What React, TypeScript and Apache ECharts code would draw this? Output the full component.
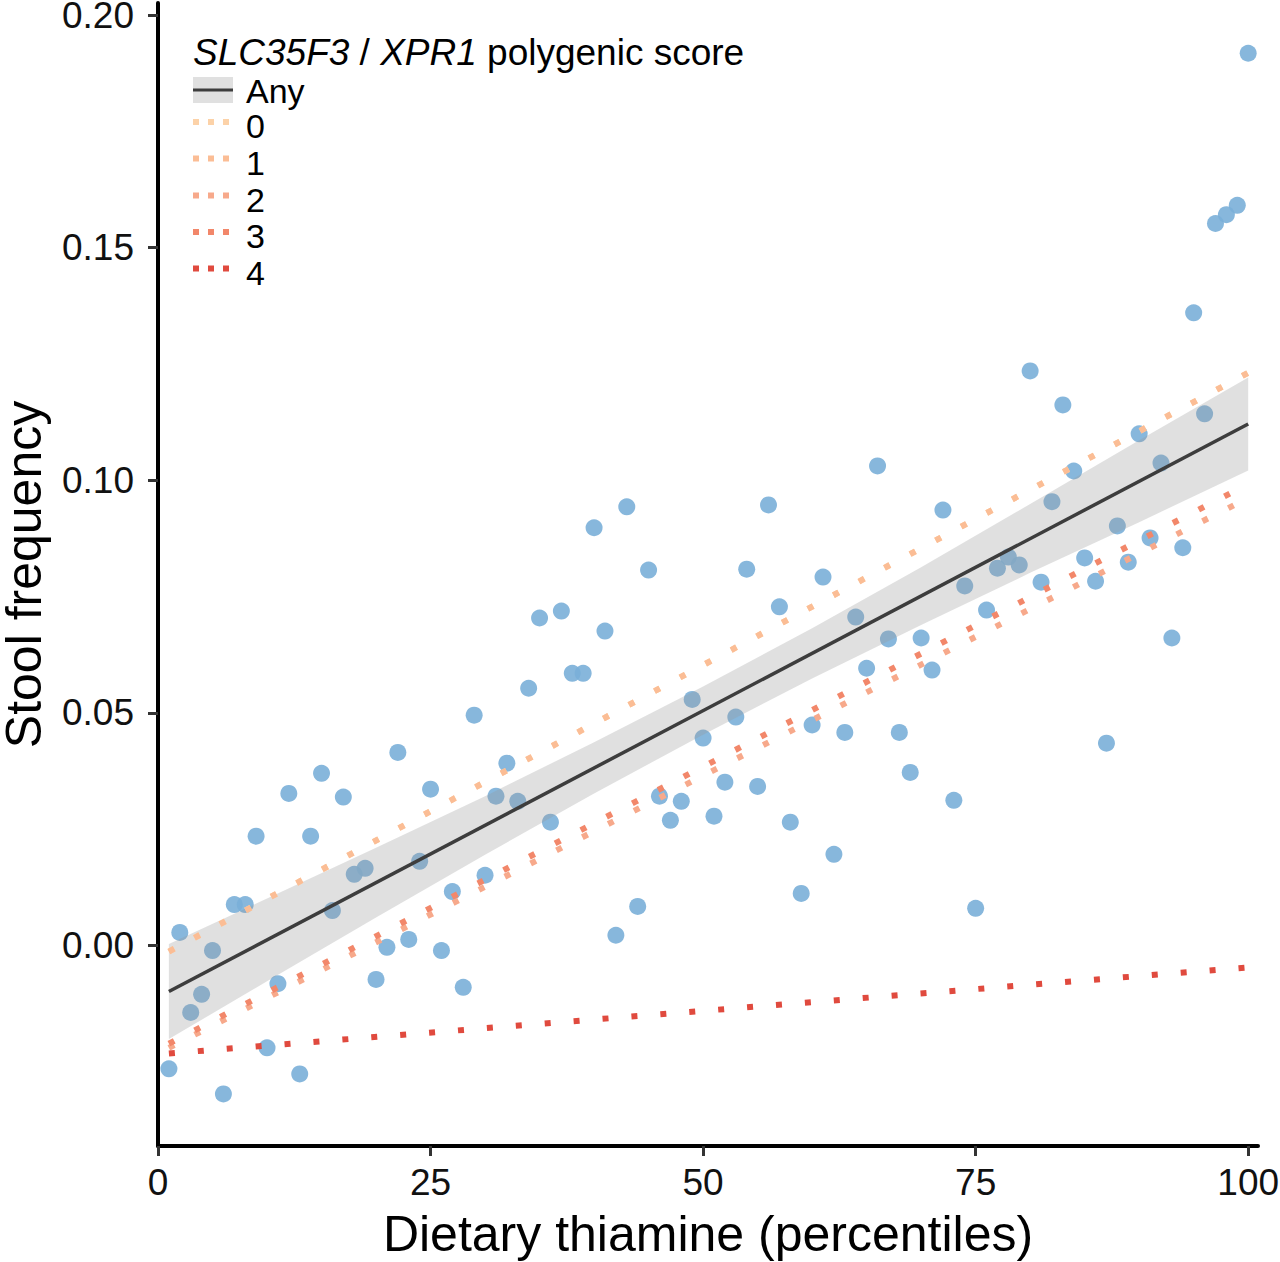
import React, { useEffect, useRef } from "react";
import * as echarts from "echarts";

// ---- data ----
const percentile = [
  1, 2, 3, 4, 5, 6, 7, 8, 9, 10, 11, 12, 13, 14, 15, 16, 17, 18, 19, 20,
  21, 22, 23, 24, 25, 26, 27, 28, 29, 30, 31, 32, 33, 34, 35, 36, 37, 38, 39, 40,
  41, 42, 43, 44, 45, 46, 47, 48, 49, 50, 51, 52, 53, 54, 55, 56, 57, 58, 59, 60,
  61, 62, 63, 64, 65, 66, 67, 68, 69, 70, 71, 72, 73, 74, 75, 76, 77, 78, 79, 80,
  81, 82, 83, 84, 85, 86, 87, 88, 89, 90, 91, 92, 93, 94, 95, 96, 97, 98, 99, 100,
];
const stoolFrequency = [
  -0.0265, 0.0028, -0.0144, -0.0105, -0.0011, -0.0319, 0.0088, 0.0088, 0.0235, -0.022,
  -0.0082, 0.0327, -0.0276, 0.0235, 0.037, 0.0075, 0.0319, 0.0153, 0.0166, -0.0073,
  -0.0004, 0.0415, 0.0013, 0.0181, 0.0336, -0.0011, 0.0116, -0.009, 0.0495, 0.0151,
  0.0321, 0.0392, 0.031, 0.0553, 0.0704, 0.0265, 0.0719, 0.0585, 0.0585, 0.0898,
  0.0676, 0.0022, 0.0943, 0.0084, 0.0807, 0.0321, 0.0269, 0.031, 0.0529, 0.0446,
  0.0278, 0.0351, 0.0491, 0.0809, 0.0342, 0.0947, 0.0728, 0.0265, 0.0112, 0.0474,
  0.0792, 0.0196, 0.0458, 0.0706, 0.0596, 0.1031, 0.0659, 0.0458, 0.0372, 0.0661,
  0.0592, 0.0936, 0.0312, 0.0773, 0.008, 0.0721, 0.0811, 0.0835, 0.0818, 0.1235,
  0.0781, 0.0954, 0.1162, 0.102, 0.0833, 0.0783, 0.0435, 0.0902, 0.0824, 0.11,
  0.0876, 0.1037, 0.0661, 0.0855, 0.136, 0.1143, 0.1552, 0.1571, 0.1591, 0.1918,
];

const fitX = [1, 100];
const fitAny = [-0.0099, 0.1121];
const fitScore0 = [-0.0013, 0.1231];
const fitScore1 = [-0.0013, 0.1231];
const fitScore2 = [-0.022, 0.0962];
const fitScore3 = [-0.0211, 0.0992];
const fitScore4 = [-0.0232, -0.0047];

const ribbonX = [1, 10, 20, 30, 40, 50, 60, 70, 80, 90, 100];
const ribbonLow = [-0.0201, -0.0077, 0.006, 0.0195, 0.0327, 0.0453, 0.0574, 0.0689, 0.0801, 0.091, 0.1021];
const ribbonHigh = [0.0003, 0.0101, 0.021, 0.0321, 0.0437, 0.0557, 0.0682, 0.0813, 0.0949, 0.1086, 0.1221];

const yTicks = [0, 0.05, 0.1, 0.15, 0.2];
const xTicks = [0, 25, 50, 75, 100];

const scoreLabels = ["0", "1", "2", "3", "4"];
const scoreColors = ["#fcd2a8", "#fbbd95", "#f7a98b", "#f2876a", "#e04a3e"];
const scoreFits = [fitScore0, fitScore1, fitScore2, fitScore3, fitScore4];

const FONT = "'Liberation Sans', Arial, Helvetica, sans-serif";
const RIBBON_FILL = "rgba(153,153,153,0.3)";

export default function App() {
  const ref = useRef<HTMLDivElement>(null);

  useEffect(() => {
    if (!ref.current) return;
    const chart = echarts.init(ref.current, undefined, { renderer: "svg" });

    const lineSeries = scoreFits.map((fit, k) => ({
      name: scoreLabels[k],
      type: "line",
      data: fitX.map((x, i) => [x, fit[i]]),
      symbol: "none",
      silent: true,
      z: 5,
      lineStyle: { color: scoreColors[k], width: 6, type: [6, 23], cap: "butt" },
    }));

    const keyY = [122, 158.5, 195.5, 232, 268.5];
    const legendGraphics: any[] = [
      {
        type: "text",
        x: 193,
        y: 52,
        style: {
          text: "{i|SLC35F3} / {i|XPR1} polygenic score",
          rich: { i: { fontStyle: "italic", fontSize: 37, fontFamily: FONT, fill: "#000" } },
          fontSize: 37,
          fontFamily: FONT,
          fill: "#000",
          verticalAlign: "middle",
        },
      },
      { type: "rect", shape: { x: 193, y: 77, width: 40, height: 26 }, style: { fill: RIBBON_FILL } },
      { type: "line", shape: { x1: 193, y1: 90, x2: 233, y2: 90 }, style: { stroke: "#3d3d3d", lineWidth: 3 } },
      {
        type: "text",
        x: 246,
        y: 91,
        style: { text: "Any", fontSize: 34, fontFamily: FONT, fill: "#000", verticalAlign: "middle" },
      },
    ];
    scoreLabels.forEach((lab, k) => {
      legendGraphics.push({
        type: "line",
        shape: { x1: 193, y1: keyY[k], x2: 233, y2: keyY[k] },
        style: { stroke: scoreColors[k], lineWidth: 6, lineDash: [6, 9] },
      });
      legendGraphics.push({
        type: "text",
        x: 246,
        y: keyY[k] + 4,
        style: { text: lab, fontSize: 34, fontFamily: FONT, fill: "#000", verticalAlign: "middle" },
      });
    });

    chart.setOption({
      animation: false,
      backgroundColor: "#fff",
      textStyle: { fontFamily: FONT },
      grid: { left: 158, right: 22, top: 3, bottom: 116, containLabel: false, outerBoundsMode: "none" },
      xAxis: {
        type: "value",
        min: 0,
        max: 100.9,
        name: "Dietary thiamine (percentiles)",
        nameLocation: "middle",
        nameGap: 63,
        nameMoveOverlap: false,
        nameTextStyle: { fontSize: 50, color: "#000", fontFamily: FONT },
        axisLine: { show: true, onZero: false, lineStyle: { color: "#000", width: 4 } },
        axisTick: { show: true, length: 10, customValues: xTicks, lineStyle: { color: "#333", width: 3 } },
        axisLabel: {
          show: true,
          customValues: xTicks,
          margin: 18,
          fontSize: 37,
          color: "#111",
          fontFamily: FONT,
        },
        splitLine: { show: false },
      },
      yAxis: {
        type: "value",
        min: -0.0431,
        max: 0.2026,
        name: "Stool frequency",
        nameLocation: "middle",
        nameGap: 114,
        nameMoveOverlap: false,
        nameTextStyle: { fontSize: 50, lineHeight: 40, color: "#000", fontFamily: FONT },
        axisLine: { show: true, onZero: false, lineStyle: { color: "#000", width: 4 } },
        axisTick: { show: true, length: 10, customValues: yTicks, lineStyle: { color: "#333", width: 3 } },
        axisLabel: {
          show: true,
          customValues: yTicks,
          margin: 24,
          fontSize: 37,
          lineHeight: 30,
          color: "#111",
          fontFamily: FONT,
          formatter: (v: number) => v.toFixed(2),
        },
        splitLine: { show: false },
      },
      graphic: legendGraphics,
      series: [
        {
          name: "points",
          type: "scatter",
          data: percentile.map((x, i) => [x, stoolFrequency[i]]),
          symbol: "circle",
          symbolSize: 17,
          silent: true,
          z: 2,
          itemStyle: { color: "#7aafd8", opacity: 0.9 },
        },
        {
          name: "ribbon",
          type: "custom",
          silent: true,
          z: 3,
          data: [[ribbonX[0], ribbonLow[0]]],
          renderItem: (_params: any, api: any) => {
            const top = ribbonX.map((x, i) => api.coord([x, ribbonHigh[i]]));
            const bottom = ribbonX.map((x, i) => api.coord([x, ribbonLow[i]])).reverse();
            return {
              type: "polygon",
              shape: { points: top.concat(bottom) },
              style: { fill: RIBBON_FILL },
            };
          },
        },
        {
          name: "Any",
          type: "line",
          data: fitX.map((x, i) => [x, fitAny[i]]),
          symbol: "none",
          silent: true,
          z: 4,
          lineStyle: { color: "#3d3d3d", width: 3.5 },
        },
        ...lineSeries,
      ],
    });

    return () => chart.dispose();
  }, []);

  return (
    <div
      ref={ref}
      style={{ position: "absolute", left: 0, top: 0, width: 1280, height: 1262 }}
    />
  );
}
